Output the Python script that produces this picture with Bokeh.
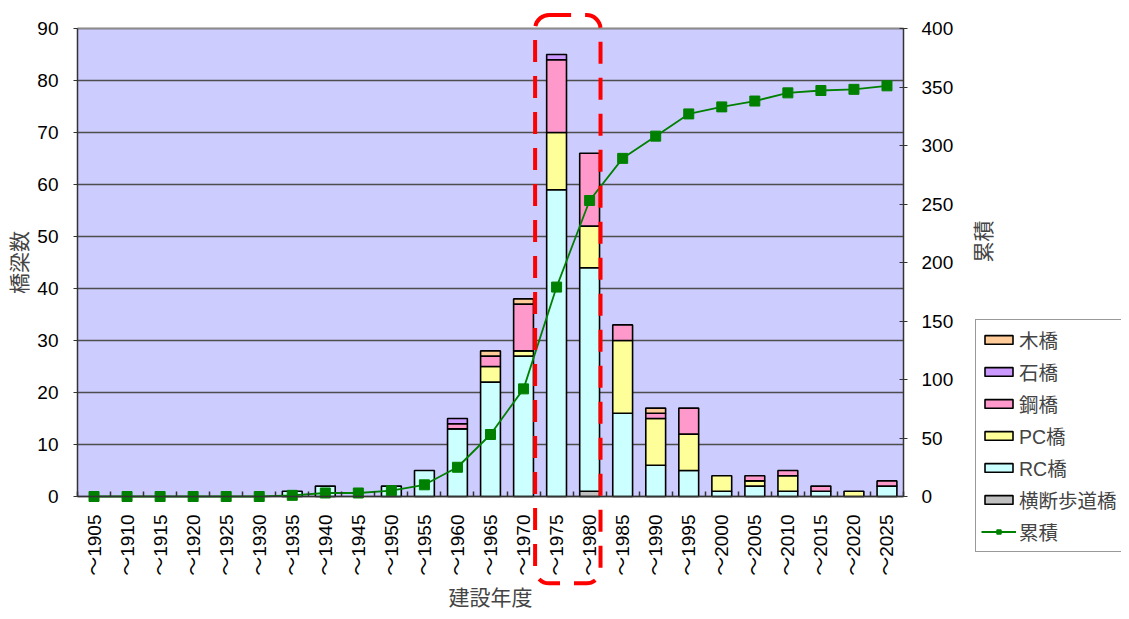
import math
import numpy as np
from bokeh.plotting import figure
from bokeh.models import (Range1d, LinearAxis, FixedTicker, Legend, LegendItem,
                          BoxAnnotation)
from bokeh.embed import file_html
from bokeh.resources import INLINE

# ---------------- data ----------------
years = ["1905", "1910", "1915", "1920", "1925", "1930", "1935", "1940", "1945",
         "1950", "1955", "1960", "1965", "1970", "1975", "1980", "1985", "1990",
         "1995", "2000", "2005", "2010", "2015", "2020", "2025"]
tick_labels = ["～" + y for y in years]

ped   = [0, 0, 0, 0, 0, 0, 0, 0, 0, 0, 0, 0, 0, 0, 0, 1, 0, 0, 0, 0, 0, 0, 0, 0, 0]   # 横断歩道橋
rc    = [0, 0, 0, 0, 0, 0, 1, 2, 0, 2, 5, 13, 22, 27, 59, 43, 16, 6, 5, 1, 2, 1, 1, 0, 2]  # RC橋
pc    = [0, 0, 0, 0, 0, 0, 0, 0, 0, 0, 0, 0, 3, 1, 11, 8, 14, 9, 7, 3, 1, 3, 0, 1, 0]   # PC橋
steel = [0, 0, 0, 0, 0, 0, 0, 0, 0, 0, 0, 1, 2, 9, 14, 14, 3, 1, 5, 0, 1, 1, 1, 0, 1]  # 鋼橋
stone = [0, 0, 0, 0, 0, 0, 0, 0, 0, 0, 0, 1, 0, 0, 1, 0, 0, 0, 0, 0, 0, 0, 0, 0, 0]   # 石橋
wood  = [0, 0, 0, 0, 0, 0, 0, 0, 0, 0, 0, 0, 1, 1, 0, 0, 0, 1, 0, 0, 0, 0, 0, 0, 0]   # 木橋
cumulative = [0, 0, 0, 0, 0, 0, 1, 3, 3, 5, 10, 25, 53, 92, 179, 253, 289, 308,
              327, 333, 338, 345, 347, 348, 351]                                     # 累積

series_names = ["横断歩道橋", "RC橋", "PC橋", "鋼橋", "石橋", "木橋"]
series_values = [ped, rc, pc, steel, stone, wood]
series_colors = ["#C0C0C0", "#CCFFFF", "#FFFF99", "#FF99CC", "#CC99FF", "#FFCC99"]
legend_order = ["木橋", "石橋", "鋼橋", "PC橋", "RC橋", "横断歩道橋"]

left_ticks = [0, 10, 20, 30, 40, 50, 60, 70, 80, 90]
right_ticks = [0, 50, 100, 150, 200, 250, 300, 350, 400]
highlight = ["1975", "1980"]

LATIN = "Liberation Sans, Noto Sans CJK JP"
CJK = "Noto Sans CJK JP"

# ---------------- layout (pixels on the canvas) ----------------
W, H = 1121, 611
PL, PR, PT, PB = 77, 903, 28, 496          # plot area edges on the canvas
n = len(years)
x_lo, x_hi = -0.5, n - 0.5
px_x = (PR - PL) / (x_hi - x_lo)
px_y = (PB - PT) / (left_ticks[-1] - left_ticks[0])
px_c = (PB - PT) / (right_ticks[-1] - right_ticks[0])

p = figure(width=W, height=H, output_backend="svg", toolbar_location=None,
           x_axis_location=None, y_axis_location=None,
           x_range=Range1d(x_lo - PL / px_x, x_hi + (W - PR) / px_x),
           y_range=Range1d(left_ticks[0] - (H - PB) / px_y, left_ticks[-1] + PT / px_y),
           min_border=0)
p.background_fill_color = "white"
p.border_fill_color = "white"
p.outline_line_color = None
p.grid.visible = False
p.extra_y_ranges = {"cum": Range1d(right_ticks[0] - (H - PB) / px_c,
                                   right_ticks[-1] + PT / px_c)}

# plot area background
p.quad(left=x_lo, right=x_hi, bottom=left_ticks[0], top=left_ticks[-1],
       fill_color="#CCCCFF", line_color=None)
# gridlines
p.segment(x0=[x_lo] * len(left_ticks), x1=[x_hi] * len(left_ticks),
          y0=left_ticks, y1=left_ticks, line_color="#4d4d4d", line_width=1.3)
# top border (lighter)
p.segment(x0=[x_lo], x1=[x_hi], y0=[left_ticks[-1]], y1=[left_ticks[-1]],
          line_color="#8c8c8c", line_width=1.5)

x = np.arange(n)

# stacked bars
renderers = {}
bottom = np.zeros(n)
for name, vals, col in zip(series_names, series_values, series_colors):
    v = np.array(vals, dtype=float)
    top = bottom + v
    b_draw = np.where(v > 0, bottom, np.nan)
    t_draw = np.where(v > 0, top, np.nan)
    r = p.vbar(x=x, bottom=b_draw, top=t_draw, width=0.6, fill_color=col,
               line_color="black", line_width=1.6)
    renderers[name] = r
    bottom = top

# cumulative line
rl = p.line(x, cumulative, y_range_name="cum", line_color="#008000", line_width=1.8)
rs = p.scatter(x, cumulative, y_range_name="cum", marker="square", size=10,
               fill_color="#008000", line_color="#008000")

# ---------------- axes (fixed inside the canvas) ----------------
xa = LinearAxis(fixed_location=left_ticks[0], bounds=(x_lo, x_hi))
xa.ticker = FixedTicker(ticks=list(x), minor_ticks=list(np.arange(n + 1) - 0.5))
xa.major_label_overrides = {int(i): lab for i, lab in zip(x, tick_labels)}
xa.major_label_orientation = math.pi / 2
xa.major_tick_line_color = None
xa.minor_tick_in = 5
xa.minor_tick_out = 0
xa.minor_tick_line_color = "#333333"
xa.minor_tick_line_width = 1.5
xa.axis_line_color = "#333333"
xa.axis_line_width = 1.5
xa.major_label_text_font = LATIN
xa.major_label_text_font_size = "19px"
xa.major_label_text_color = "black"
xa.major_label_standoff = 12
xa.axis_label = "建設年度"
xa.axis_label_text_font = CJK
xa.axis_label_text_font_size = "21px"
xa.axis_label_text_font_style = "normal"
xa.axis_label_standoff = 2
p.add_layout(xa, "below")

ya = LinearAxis(fixed_location=x_lo, bounds=(left_ticks[0], left_ticks[-1]))
ya.ticker = FixedTicker(ticks=left_ticks)
ya.major_tick_in = 0
ya.major_tick_out = 4
ya.minor_tick_line_color = None
ya.axis_line_color = "#333333"
ya.axis_line_width = 1.5
ya.major_tick_line_color = "#333333"
ya.major_label_text_font = LATIN
ya.major_label_text_font_size = "19px"
ya.major_label_text_color = "black"
ya.major_label_standoff = 15
ya.axis_label = "橋梁数"
ya.axis_label_text_font = CJK
ya.axis_label_text_font_size = "21px"
ya.axis_label_text_font_style = "normal"
ya.axis_label_standoff = 1
p.add_layout(ya, "left")

ry = LinearAxis(y_range_name="cum", fixed_location=x_hi,
                bounds=(right_ticks[0], right_ticks[-1]))
ry.ticker = FixedTicker(ticks=right_ticks)
ry.major_tick_in = 4
ry.major_tick_out = 4
ry.minor_tick_line_color = None
ry.axis_line_color = "#333333"
ry.axis_line_width = 1.5
ry.major_tick_line_color = "#333333"
ry.major_label_text_font = LATIN
ry.major_label_text_font_size = "19px"
ry.major_label_text_color = "black"
ry.major_label_standoff = 14
ry.axis_label = "累積"
ry.axis_label_text_font = CJK
ry.axis_label_text_font_size = "21px"
ry.axis_label_text_font_style = "normal"
ry.axis_label_standoff = 26
ry.axis_label_orientation = math.pi / 2
p.add_layout(ry, "right")

# highlight box
i0 = years.index(highlight[0])
i1 = years.index(highlight[1])
box = BoxAnnotation(left=i0 - 0.65, right=i1 + 0.33, bottom=-16.7, top=92.6,
                    fill_color=None, fill_alpha=0, line_color="#FF0000",
                    line_alpha=1.0, line_width=4, line_dash="22 14",
                    border_radius=14, level="overlay")
p.add_layout(box)

# legend
items = [LegendItem(label=nm, renderers=[renderers[nm]]) for nm in legend_order]
items.append(LegendItem(label="累積", renderers=[rl, rs]))
legend = Legend(items=items, location=(975, H - 552))
legend.glyph_width = 35
legend.glyph_height = 11
legend.label_height = 24
legend.spacing = 3
legend.padding = 5
legend.margin = 0
legend.label_standoff = 3
legend.label_text_font = LATIN
legend.label_text_font_size = "19.5px"
legend.border_line_color = "#333333"
legend.border_line_width = 1
legend.background_fill_color = "white"
legend.background_fill_alpha = 1
p.add_layout(legend, "center")

open("out.html", "w").write(file_html(p, INLINE))
